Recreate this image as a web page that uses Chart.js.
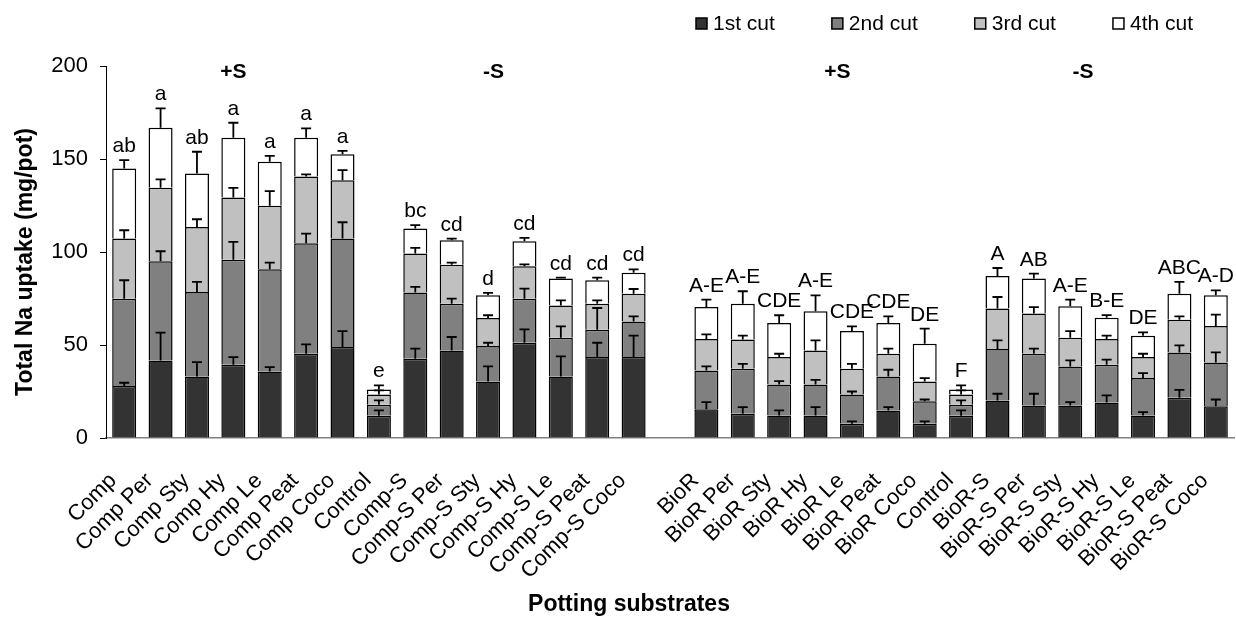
<!DOCTYPE html>
<html>
<head>
<meta charset="utf-8">
<script src="https://cdn.jsdelivr.net/npm/chart.js@4.4.0/dist/chart.umd.min.js"></script>
<style>
  html, body { margin: 0; padding: 0; background: #ffffff; }
  #wrap { position: relative; width: 1236px; height: 619px; }
</style>
</head>
<body>
<div id="wrap"><canvas id="chart"></canvas></div>
<script>
// Potting substrates (blank entry separates the Comp and BioR blocks)
const substrates = [
  'Comp', 'Comp Per', 'Comp Sty', 'Comp Hy', 'Comp Le', 'Comp Peat', 'Comp Coco',
  'Control', 'Comp-S', 'Comp-S Per', 'Comp-S Sty', 'Comp-S Hy', 'Comp-S Le', 'Comp-S Peat', 'Comp-S Coco',
  '',
  'BioR', 'BioR Per', 'BioR Sty', 'BioR Hy', 'BioR Le', 'BioR Peat', 'BioR Coco',
  'Control', 'BioR-S', 'BioR-S Per', 'BioR-S Sty', 'BioR-S Hy', 'BioR-S Le', 'BioR-S Peat', 'BioR-S Coco'
];

const seriesNames = ['1st cut', '2nd cut', '3rd cut', '4th cut'];

// Na uptake per cut (mg/pot)
const cut1 = [27.9, 41.7, 33.1, 39.4, 35.8, 45.3, 48.9, 11.9, 42.6, 47.1, 30.4, 51.2, 33.1, 43.5, 43.5, null,
              15.5, 13.0, 12.1, 12.1, 7.6, 14.8, 7.6, 11.9, 20.2, 17.5, 17.5, 19.1, 12.1, 21.6, 17.1];
const cut2 = [47.0, 53.3, 45.4, 56.5, 54.9, 59.4, 58.3, 6.0, 35.6, 25.1, 19.0, 23.7, 20.8, 14.7, 19.2, null,
              20.8, 24.2, 16.7, 16.7, 15.8, 18.3, 12.2, 6.0, 27.6, 27.8, 21.0, 20.3, 20.1, 24.4, 23.5];
const cut3 = [32.3, 39.5, 35.0, 33.4, 34.1, 35.9, 31.4, 5.5, 21.0, 21.0, 15.1, 17.4, 17.4, 14.0, 14.9, null,
              16.9, 15.8, 14.7, 18.3, 13.8, 12.2, 10.6, 5.5, 21.8, 21.6, 15.4, 13.8, 11.3, 17.6, 19.6];
const cut4 = [37.7, 32.3, 28.7, 32.1, 23.7, 20.8, 14.0, 2.7, 13.4, 13.1, 12.2, 13.5, 14.4, 12.6, 11.3, null,
              17.2, 19.2, 18.3, 21.0, 20.3, 16.5, 20.3, 2.7, 17.5, 18.8, 16.9, 11.5, 11.5, 14.0, 16.5];

// Standard errors (upper whiskers only)
const err1 = [1.8, 14.9, 7.7, 4.1, 2.3, 5.0, 8.6, 2.9, 5.4, 7.2, 8.1, 7.2, 10.8, 7.7, 11.5, null,
              3.8, 3.6, 2.7, 4.5, 1.3, 1.8, 1.3, 2.9, 3.6, 6.3, 1.8, 3.8, 1.8, 4.3, 3.6];
const err2 = [9.9, 5.4, 5.4, 9.5, 3.6, 5.2, 8.8, 2.3, 3.0, 2.7, 1.8, 5.4, 6.1, 11.7, 2.7, null,
              2.2, 2.7, 1.8, 2.5, 1.6, 3.6, 0.9, 2.3, 4.7, 2.7, 3.2, 2.7, 2.7, 3.8, 5.4];
const err3 = [4.5, 4.5, 4.1, 5.2, 7.9, 1.1, 5.4, 2.2, 3.0, 1.1, 1.5, 1.1, 2.7, 1.8, 2.5, null,
              2.5, 2.0, 1.8, 5.4, 2.7, 2.7, 1.8, 2.2, 6.2, 3.5, 3.6, 1.8, 1.8, 1.8, 6.1];
const err4 = [4.5, 10.4, 11.7, 8.1, 3.2, 5.1, 1.8, 2.2, 1.8, 0.9, 1.3, 1.8, 0.5, 1.4, 1.8, null,
              4.0, 6.7, 4.2, 8.6, 2.5, 3.6, 8.1, 2.2, 4.3, 2.7, 3.6, 1.4, 1.8, 6.3, 2.7];

// Significance letters on the totals
const letters = ['ab', 'a', 'ab', 'a', 'a', 'a', 'a', 'e', 'bc', 'cd', 'd', 'cd', 'cd', 'cd', 'cd', '',
                 'A-E', 'A-E', 'CDE', 'A-E', 'CDE', 'CDE', 'DE', 'F', 'A', 'AB', 'A-E', 'B-E', 'DE', 'ABC', 'A-D'];

// Sulphur treatment headings, placed over a (fractional) category position
const groupNames = ['+S', '-S', '+S', '-S'];
const groupAt = [3, 10.15, 19.6, 26.35];

const yTicks = [0, 50, 100, 150, 200];

const FONT = '"Liberation Sans", Arial, sans-serif';
const fills = ['#333333', '#808080', '#c0c0c0', '#ffffff'];
const cuts = [cut1, cut2, cut3, cut4];
const errs = [err1, err2, err3, err4];

const datasets = cuts.map((vals, k) => ({
  label: seriesNames[k],
  data: vals,
  backgroundColor: fills[k],
  borderColor: '#000000',
  borderWidth: 1.5,
  barPercentage: 0.66,
  categoryPercentage: 1.0
}));

// Whiskers at the top of every stacked segment
const errorBars = {
  id: 'errorBars',
  afterDatasetsDraw(chart) {
    const ctx = chart.ctx;
    const y = chart.scales.y;
    ctx.save();
    ctx.strokeStyle = '#000000';
    ctx.lineWidth = 1.8;
    for (let k = 0; k < cuts.length; k++) {
      const meta = chart.getDatasetMeta(k);
      for (let i = 0; i < substrates.length; i++) {
        if (cuts[k][i] == null || errs[k][i] == null) continue;
        let top = 0;
        for (let j = 0; j <= k; j++) top += cuts[j][i];
        const x = meta.data[i].x;
        const y0 = y.getPixelForValue(top);
        const y1 = y.getPixelForValue(top + errs[k][i]);
        ctx.beginPath();
        ctx.moveTo(x, y0);
        ctx.lineTo(x, y1);
        ctx.moveTo(x - 5, y1);
        ctx.lineTo(x + 5, y1);
        ctx.stroke();
      }
    }
    ctx.restore();
  }
};

// Letters, headings, legend and axis titles
const annotations = {
  id: 'annotations',
  afterDraw(chart) {
    const ctx = chart.ctx;
    const xs = chart.scales.x;
    const ys = chart.scales.y;
    ctx.save();
    ctx.fillStyle = '#000000';

    // significance letters above the 4th-cut whiskers
    ctx.font = '21px ' + FONT;
    ctx.textAlign = 'center';
    ctx.textBaseline = 'alphabetic';
    const meta = chart.getDatasetMeta(3);
    for (let i = 0; i < substrates.length; i++) {
      if (!letters[i]) continue;
      const total = cut1[i] + cut2[i] + cut3[i] + cut4[i] + err4[i];
      ctx.fillText(letters[i], meta.data[i].x, ys.getPixelForValue(total) - 8);
    }

    // treatment headings
    ctx.font = 'bold 21px ' + FONT;
    ctx.textBaseline = 'middle';
    const p0 = xs.getPixelForValue(0);
    const step = xs.getPixelForValue(1) - p0;
    groupNames.forEach((g, n) => {
      ctx.fillText(g, p0 + step * groupAt[n], chart.chartArea.top + 6);
    });

    // legend
    ctx.font = '21px ' + FONT;
    ctx.textAlign = 'left';
    let lx = 696;
    const ly = 23.5;
    seriesNames.forEach((name, k) => {
      ctx.fillStyle = fills[k];
      ctx.fillRect(lx, ly - 5.5, 11, 11);
      ctx.strokeStyle = '#000000';
      ctx.lineWidth = 1.5;
      ctx.strokeRect(lx, ly - 5.5, 11, 11);
      ctx.fillStyle = '#000000';
      ctx.fillText(name, lx + 17, ly + 1);
      lx += 17 + ctx.measureText(name).width + 57;
    });

    // axis titles
    ctx.font = 'bold 23px ' + FONT;
    ctx.textAlign = 'center';
    ctx.fillText('Potting substrates', 629, 605);
    ctx.translate(26, 262);
    ctx.rotate(-Math.PI / 2);
    ctx.fillText('Total Na uptake (mg/pot)', 0, 0);
    ctx.restore();
  }
};

new Chart(document.getElementById('chart'), {
  type: 'bar',
  data: { labels: substrates, datasets },
  options: {
    responsive: true,
    maintainAspectRatio: false,
    animation: false,
    layout: { padding: { top: 66, right: 2, left: 0, bottom: 0 } },
    plugins: { legend: { display: false }, tooltip: { enabled: false } },
    scales: {
      x: {
        stacked: true,
        grid: { display: false, drawTicks: false },
        border: { color: '#808080', width: 1.5 },
        ticks: {
          autoSkip: false,
          minRotation: 45,
          maxRotation: 45,
          padding: 30,
          labelOffset: -11,
          color: '#000000',
          font: { size: 22, family: FONT }
        },
        afterFit(scale) {
          scale.height = 181;
          scale.paddingLeft = 0;
          scale.paddingRight = 0;
        }
      },
      y: {
        stacked: true,
        min: 0,
        max: 200,
        afterBuildTicks(scale) { scale.ticks = yTicks.map(v => ({ value: v })); },
        grid: { drawOnChartArea: false, drawTicks: true, tickLength: 6, color: '#000000', tickWidth: 1 },
        border: { color: '#000000', width: 1 },
        ticks: { padding: 12, color: '#000000', font: { size: 22, family: FONT } },
        afterFit(scale) { scale.width = 106; }
      }
    }
  },
  plugins: [errorBars, annotations]
});
</script>
</body>
</html>
